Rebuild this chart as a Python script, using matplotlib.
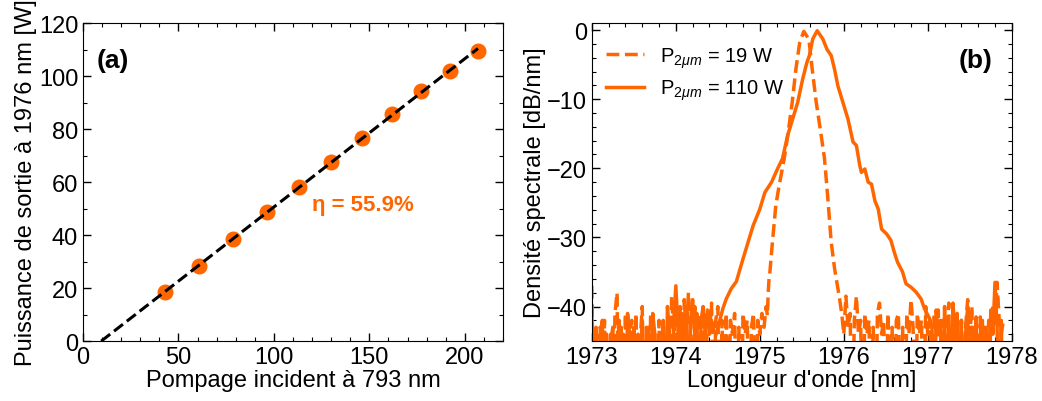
import numpy as np
import matplotlib
matplotlib.use("Agg")
import matplotlib.pyplot as plt
from matplotlib.ticker import MultipleLocator

plt.rcParams['font.family'] = ['Liberation Sans', 'DejaVu Sans']
plt.rcParams['mathtext.fontset'] = 'custom'
plt.rcParams['mathtext.rm'] = 'Liberation Sans'
plt.rcParams['mathtext.it'] = 'Liberation Sans:italic'

ORANGE = '#ff6600'

# (a) puissance de sortie vs pompage
pump = [43.1, 61.0, 78.8, 96.2, 113.3, 129.7, 146.4, 161.9, 177.3, 192.1, 206.9]
power = [18.7, 28.5, 38.6, 48.6, 58.1, 67.5, 76.7, 85.7, 94.4, 102.0, 109.6]
eta_label = 'η = 55.9%'

# (b) spectres - P = 19 W (dashed), noise floor drops below the axis (-60)
noise19_left = [-37, -60, -44, -60, -43, -60, -42, -60, -60, -44, -60, -41, -38, -60, -43, -60,
                -41, -60, -44, -42, -60, -41, -60, -45, -40, -60, -43, -60, -41, -60, -44, -60,
                -42, -60, -44, -60, -43, -60, -38.5, -44, -41, -60, -40, -60, -39, -44, -38, -43,
                -60, -40, -44, -41, -60, -42, -60, -40.5, -44, -39.5, -60, -42, -40, -60, -42, -60,
                -41, -60, -42, -44, -41, -60, -43, -60, -41, -44, -42, -60, -43, -41, -60, -42,
                -44, -41, -43, -40]
noise19_left_range = (1973.0, 1975.075)
peak19_wl = [1975.09, 1975.10, 1975.11, 1975.12, 1975.15, 1975.19, 1975.23, 1975.29, 1975.333,
             1975.386, 1975.43, 1975.475, 1975.524, 1975.55, 1975.583, 1975.60, 1975.623, 1975.671,
             1975.73, 1975.77, 1975.81, 1975.85, 1975.89, 1975.93, 1975.95]
peak19_db = [-41.3, -37.9, -36.0, -35.0, -30.7, -25.4, -22.5, -18.6, -15.2,
             -10.4, -5.6, -1.8, -0.2, -0.7, -1.3, -3.0, -5.6, -10.4,
             -15.2, -18.6, -24.4, -30.7, -34.5, -37.4, -38.9]
noise19_right = [-41, -44, -38.5, -43, -41, -60, -42, -38.5, -44, -42, -60, -41, -44, -42, -60, -43,
                 -60, -41, -39.5, -44, -42, -60, -41, -60, -43, -60, -42, -41, -60, -43, -60, -41,
                 -44, -39, -43, -60, -41, -44, -42, -60, -40, -44, -42, -60, -41, -44, -40.5, -60,
                 -42, -60, -43, -39.5, -60, -41, -60, -43, -60, -42, -60, -43, -39, -44, -40, -60,
                 -42, -60, -41.5, -60, -43, -60, -42, -44, -40, -43, -36.5, -42, -44, -42]
noise19_right_range = (1975.975, 1977.9)

# (b) spectres - P = 110 W (solid)
noise110_left = [-40, -60, -43, -60, -44, -42, -60, -44, -60, -45, -43, -60, -60, -42, -60, -44,
                 -60, -41, -44, -60, -43, -60, -44, -60, -42, -60, -60, -43, -60, -41, -44, -60,
                 -44, -60, -42, -60, -40, -44, -60, -42, -37, -43, -60, -41, -44, -40, -60, -42,
                 -39, -44, -41, -60, -42, -40, -44, -41, -43, -42, -43.5]
noise110_left_range = (1973.0, 1974.45)
peak110_wl = [1974.48, 1974.53, 1974.56, 1974.60, 1974.66, 1974.72, 1974.80, 1974.86, 1974.92,
              1975.00, 1975.06, 1975.14, 1975.21, 1975.27, 1975.33, 1975.39, 1975.45, 1975.51,
              1975.56, 1975.59, 1975.63, 1975.683, 1975.75, 1975.80, 1975.85, 1975.89, 1975.93,
              1975.99, 1976.05, 1976.11, 1976.15, 1976.19, 1976.21, 1976.25, 1976.29, 1976.33,
              1976.37, 1976.41, 1976.45, 1976.51, 1976.56, 1976.60, 1976.64, 1976.70, 1976.74,
              1976.80, 1976.86, 1976.92, 1976.96, 1977.02]
peak110_db = [-44.0, -41.7, -40.3, -38.9, -37.4, -36.4, -33.1, -30.7, -28.3,
              -25.9, -23.5, -22.0, -20.1, -18.6, -15.3, -12.9, -10.5, -7.1,
              -4.7, -3.7, -1.3, -0.1, -1.3, -2.8, -3.7, -5.7, -8.1,
              -10.5, -12.9, -16.2, -16.7, -19.6, -20.6, -20.1, -22.0, -22.3,
              -24.7, -25.9, -28.8, -29.5, -30.4, -32.1, -33.6, -35.0, -36.7,
              -37.2, -37.9, -38.9, -40.3, -41.7]
noise110_right = [-43, -60, -40.5, -44, -42, -60, -40, -60, -43, -60, -39.5, -44, -41, -60, -42, -60,
                  -44, -40, -60, -43, -60, -41.5, -60, -44, -42, -60, -43, -60, -40.5, -44, -36.5,
                  -43, -60, -42, -60]
noise110_right_range = (1977.05, 1977.9)


def spectrum(noise_l, rng_l, peak_wl, peak_db, noise_r, rng_r):
    wl = np.concatenate([np.linspace(rng_l[0], rng_l[1], len(noise_l)), peak_wl,
                         np.linspace(rng_r[0], rng_r[1], len(noise_r))])
    db = np.concatenate([noise_l, peak_db, noise_r])
    return wl, db


wl19, db19 = spectrum(noise19_left, noise19_left_range, peak19_wl, peak19_db,
                      noise19_right, noise19_right_range)
wl110, db110 = spectrum(noise110_left, noise110_left_range, peak110_wl, peak110_db,
                        noise110_right, noise110_right_range)

fig = plt.figure(figsize=(10.42, 4.02), dpi=100)
ax1 = fig.add_axes([0.0797, 0.149, 0.403, 0.791])
ax2 = fig.add_axes([0.568, 0.149, 0.403, 0.791])

for ax in (ax1, ax2):
    ax.tick_params(which='both', direction='in', top=True, right=True, labelsize=17)
    ax.tick_params(which='major', length=6, width=1)
    ax.tick_params(which='minor', length=3, width=0.8)

# panel (a)
a, b = np.polyfit(pump, power, 1)
x0 = -b / a
xfit = np.array([x0, pump[-1]])
ax1.plot(xfit, a * xfit + b, color='black', ls='--', lw=2.2, zorder=3)
ax1.plot(pump, power, 'o', color=ORANGE, markersize=10.5, zorder=2)
ax1.set_xlim(0, 220)
ax1.set_ylim(0, 120)
ax1.xaxis.set_major_locator(MultipleLocator(50))
ax1.xaxis.set_minor_locator(MultipleLocator(10))
ax1.yaxis.set_major_locator(MultipleLocator(20))
ax1.yaxis.set_minor_locator(MultipleLocator(10))
ax1.set_xlabel('Pompage incident à 793 nm', fontsize=17, labelpad=1)
ax1.set_ylabel('Puissance de sortie à 1976 nm [W]', fontsize=17, labelpad=1)
ax1.text(0.033, 0.885, '(a)', transform=ax1.transAxes, fontsize=19, fontweight='bold',
         va='center', ha='left')
ax1.text(120, 51.5, eta_label, color=ORANGE, fontsize=16, fontweight='bold', va='center')

# panel (b)
ax2.plot(wl19, db19, color=ORANGE, ls='--', lw=2.5, label=r'P$_{2\mu m}$ = 19 W')
ax2.plot(wl110, db110, color=ORANGE, ls='-', lw=2.5, label=r'P$_{2\mu m}$ = 110 W')
ax2.set_xlim(1973, 1978)
ax2.set_ylim(-45, 1)
ax2.xaxis.set_major_locator(MultipleLocator(1))
ax2.xaxis.set_minor_locator(MultipleLocator(0.2))
ax2.yaxis.set_major_locator(MultipleLocator(10))
ax2.yaxis.set_minor_locator(MultipleLocator(2))
ax2.ticklabel_format(useOffset=False)
ax2.set_xlabel("Longueur d'onde [nm]", fontsize=17, labelpad=1)
ax2.set_ylabel('Densité spectrale [dB/nm]', fontsize=17, labelpad=1)
ax2.text(0.955, 0.885, '(b)', transform=ax2.transAxes, fontsize=19, fontweight='bold',
         va='center', ha='right')
ax2.legend(loc='upper left', bbox_to_anchor=(0.0, 0.975), frameon=False, fontsize=14.5,
           handlelength=1.9, handletextpad=0.8, labelspacing=0.4, borderaxespad=0.3)

fig.savefig('out.png', dpi=100)
